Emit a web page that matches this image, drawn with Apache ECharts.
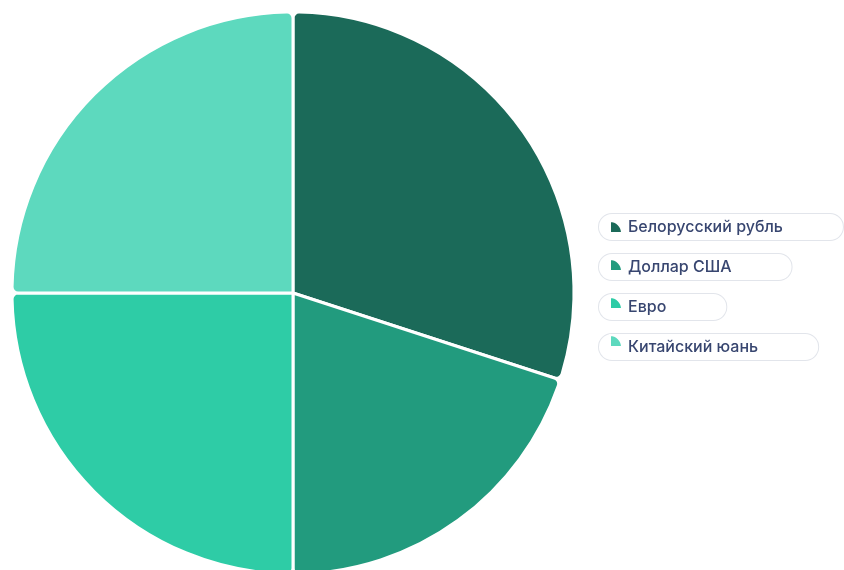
<!DOCTYPE html>
<html><head><meta charset="utf-8">
<script src="https://cdn.jsdelivr.net/npm/echarts@6/dist/echarts.min.js"></script>
<style>html,body{margin:0;padding:0;background:#fff}#c{width:844px;height:570px}</style>
</head><body><div id="c"></div>
<script>
const categories = ['Белорусский рубль', 'Доллар США', 'Евро', 'Китайский юань'];
const values = [30, 20, 25, 25];
const colors = ['#1b6a59', '#229b7e', '#2ecca6', '#5dd9be'];

const chart = echarts.init(document.getElementById('c'), null, {renderer: 'canvas'});
const iconPath = 'path://M0,10 L0,0 A10,10 0 0 1 10,10 Z';
const baseText = {fontFamily: 'Inter', fontSize: 16, fontWeight: 500, lineHeight: 17, padding: [5, 60, 4, 29]};
chart.setOption({
  color: colors,
  animation: false,
  legend: [
    {
      orient: 'vertical', left: 581, top: 213, padding: 0, itemGap: 12,
      itemWidth: 12, itemHeight: 12, icon: iconPath,
      itemStyle: {opacity: 0},
      selectedMode: false,
      data: categories,
      textStyle: Object.assign({}, baseText, {
        color: '#384670', backgroundColor: '#fff', borderColor: '#e2e5eb', borderWidth: 1, borderRadius: 14
      })
    },
    {
      orient: 'vertical', left: 609, top: 214, padding: 0, itemGap: 12, z: 10,
      itemWidth: 13, itemHeight: 12, icon: iconPath,
      selectedMode: false,
      data: categories,
      textStyle: Object.assign({}, baseText, {color: 'rgba(0,0,0,0)'})
    }
  ],
  series: [{
    type: 'pie',
    center: [293, 293],
    radius: [0, 281],
    startAngle: 90,
    clockwise: true,
    label: {show: false},
    labelLine: {show: false},
    itemStyle: {borderColor: '#fff', borderWidth: 3, borderRadius: 6},
    emphasis: {disabled: true},
    data: categories.map((n, i) => ({name: n, value: values[i]}))
  }]
});
</script>
</body></html>
